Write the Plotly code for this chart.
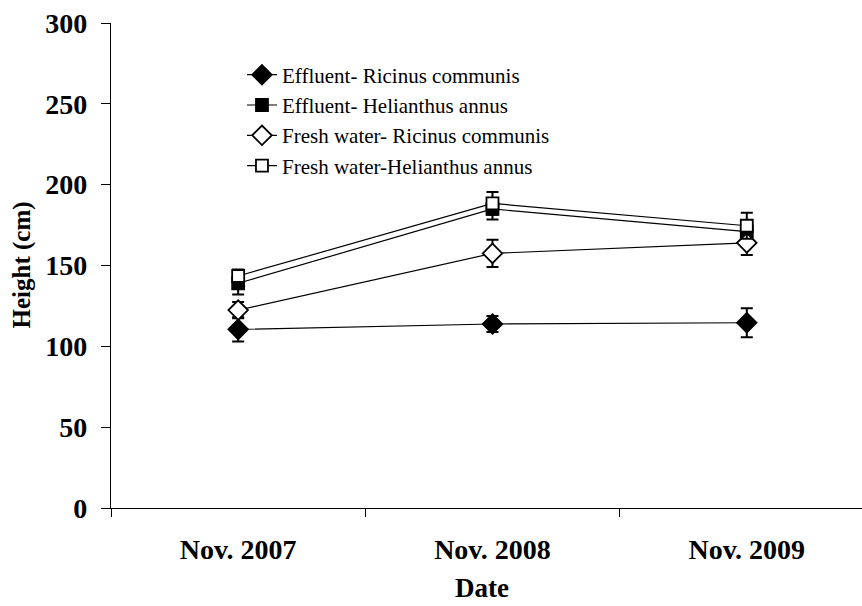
import plotly.graph_objects as go

dates = ["Nov. 2007", "Nov. 2008", "Nov. 2009"]

eff_ricinus = [110.5, 113.8, 114.6]
eff_ricinus_err = [7.5, 5.0, 9.0]
eff_helianthus = [139.0, 185.0, 171.0]
eff_helianthus_err = [7.0, 6.5, 6.0]
fw_ricinus = [122.4, 157.5, 164.0]
fw_ricinus_err = [5.0, 8.5, 7.5]
fw_helianthus = [143.5, 188.4, 174.6]
fw_helianthus_err = [4.0, 7.0, 8.0]

series = [
    ("Effluent- Ricinus communis", eff_ricinus, eff_ricinus_err, "diamond", "black", 15),
    ("Effluent- Helianthus annus", eff_helianthus, eff_helianthus_err, "square", "black", 12),
    ("Fresh water- Ricinus communis", fw_ricinus, fw_ricinus_err, "diamond", "white", 15),
    ("Fresh water-Helianthus annus", fw_helianthus, fw_helianthus_err, "square", "white", 12),
]

fig = go.Figure()
for name, vals, errs, sym, fill, size in series:
    fig.add_trace(go.Scatter(
        x=dates, y=vals, name=name, mode="lines+markers",
        line=dict(color="black", width=1.2),
        marker=dict(symbol=sym, size=size, color=fill, line=dict(color="black", width=1.8)),
        error_y=dict(type="data", array=errs, visible=True, color="black", thickness=2, width=6),
    ))

serif = "Liberation Serif"
tickfont = dict(family=serif, size=28, color="black", weight="bold")
fig.update_layout(
    width=862, height=606,
    margin=dict(l=111, r=0, t=23, b=98, autoexpand=False),
    plot_bgcolor="white", paper_bgcolor="white",
    font=dict(family=serif, color="black"),
    showlegend=True,
    legend=dict(x=0.1744, y=0.935, xanchor="left", yanchor="top",
                font=dict(family=serif, size=21, color="black"),
                bgcolor="rgba(0,0,0,0)", tracegroupgap=0, itemwidth=30),
    xaxis=dict(
        type="category", range=[-0.5, 2.453], automargin=False,
        showline=True, linecolor="black", linewidth=1.2,
        ticks="outside", tickson="boundaries", ticklen=8, tickcolor="black", tickwidth=1,
        tickfont=tickfont, ticklabelstandoff=16,
        showgrid=False, zeroline=False,
    ),
    yaxis=dict(
        range=[0, 300], tickvals=[0, 50, 100, 150, 200, 250, 300], automargin=False,
        showline=True, linecolor="black", linewidth=1.2,
        ticks="outside", ticklen=9, tickcolor="black", tickwidth=1,
        tickfont=tickfont, ticklabelstandoff=8,
        showgrid=False, zeroline=False,
    ),
    annotations=[
        dict(text="Date", xref="paper", yref="paper", x=(482 - 111) / 751, y=(508 - 605) / 485,
             xanchor="center", yanchor="bottom", showarrow=False,
             font=dict(family=serif, size=27, color="black", weight="bold")),
        dict(text="Height (cm)", xref="paper", yref="paper", x=(21 - 111) / 751, y=0.5,
             xanchor="center", yanchor="middle", showarrow=False, textangle=-90,
             font=dict(family=serif, size=25, color="black", weight="bold")),
    ],
)

fig.write_html("out.html", config={"displayModeBar": False},
               post_script="document.body.style.margin='0';")
